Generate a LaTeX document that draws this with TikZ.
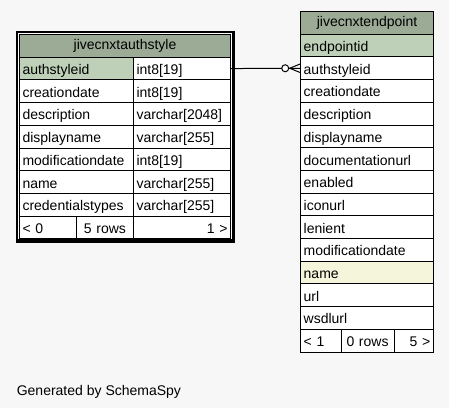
\documentclass[tikz,border=0pt]{standalone}
\usepackage{fontspec}
\setmainfont{Liberation Sans}
\definecolor{graphbg}{HTML}{F7F7F7}
\definecolor{headbg}{HTML}{9BAB96}
\definecolor{pkbg}{HTML}{BED1B8}
\definecolor{idxbg}{HTML}{F5F5DC}
\begin{document}
\begin{tikzpicture}[x=1pt, y=-1pt, line width=1pt,
    cell/.style={draw, fill=white, anchor=north west, outer sep=0pt, inner xsep=3pt, inner ysep=0pt,
        minimum height=22.7pt, text height=13pt, text depth=1pt, align=left, font=\fontsize{14}{16}\selectfont},
    head/.style={cell, fill=headbg, align=center, text height=11pt, text depth=3pt},
    lname/.style={cell, text width=108pt},
    ltype/.style={cell, text width=91pt},
    rname/.style={cell, text width=126.6pt}]
    \fill[graphbg] (0,0) rectangle (449,408);
    \useasboundingbox (0,0) rectangle (449,408);
    \pgfmathsetmacro\h{22.7}
    % jivecnxtauthstyle
    \fill (16,31) rectangle (235,242.7);
    \fill[white] (18,33) rectangle (231.7,239.3);
    \node[head, text width=205pt] (auth) at (19.5,34.5) {jivecnxtauthstyle};
    \node[lname, fill=pkbg] (auth-authstyleid) at (19.5,{34.5+\h}) {authstyleid};
    \node[ltype] (auth-authstyleid-type) at (133.5,{34.5+\h}) {int8[19]};
    \foreach \c/\t [count=\i from 2] in {creationdate/{int8[19]}, description/{varchar[2048]},
        displayname/{varchar[255]}, modificationdate/{int8[19]}, name/{varchar[255]},
        credentialstypes/{varchar[255]}}{
        \node[lname] (auth-\c) at (19.5,{34.5+\i*\h}) {\c};
        \node[ltype] (auth-\c-type) at (133.5,{34.5+\i*\h}) {\t};
    }
    \node[cell, text width=51pt] (auth-prev) at (19.5,{34.5+8*\h}) {< 0};
    \node[cell, text width=51pt, align=center] (auth-rows) at (76.5,{34.5+8*\h}) {5 rows};
    \node[cell, text width=91pt, align=right] (auth-next) at (133.5,{34.5+8*\h}) {1 >};
    % jivecnxtendpoint
    \node[head, text width=126.6pt] (endp) at (300.7,11.5) {jivecnxtendpoint};
    \node[rname, fill=pkbg] (endp-endpointid) at (300.7,{11.5+\h}) {endpointid};
    \foreach \c/\f [count=\i from 2] in {authstyleid/white, creationdate/white, description/white,
        displayname/white, documentationurl/white, enabled/white, iconurl/white, lenient/white,
        modificationdate/white, name/idxbg, url/white, wsdlurl/white}{
        \node[rname, fill=\f] (endp-\c) at (300.7,{11.5+\i*\h}) {\c};
    }
    \node[cell, text width=34.3pt] (endp-prev) at (300.7,{11.5+14*\h}) {< 1};
    \node[cell, text width=47pt, align=center] (endp-rows) at (341,{11.5+14*\h}) {0 rows};
    \node[cell, text width=33.3pt, align=right] (endp-next) at (394,{11.5+14*\h}) {5 >};
    % authstyleid -> authstyleid
    \draw (auth-authstyleid-type.east) -- (endp-authstyleid.west);
    \draw ([yshift=4.5pt]endp-authstyleid.west) -- ([xshift=-11pt]endp-authstyleid.west)
        -- ([yshift=-4.5pt]endp-authstyleid.west);
    \draw[fill=white] ([xshift=-15.5pt]endp-authstyleid.west) circle (3.5pt);
    \node[anchor=base west, inner sep=0pt, font=\fontsize{14}{16}\selectfont] (credit) at (16.3,395.7) {Generated by SchemaSpy};
\end{tikzpicture}
\end{document}
